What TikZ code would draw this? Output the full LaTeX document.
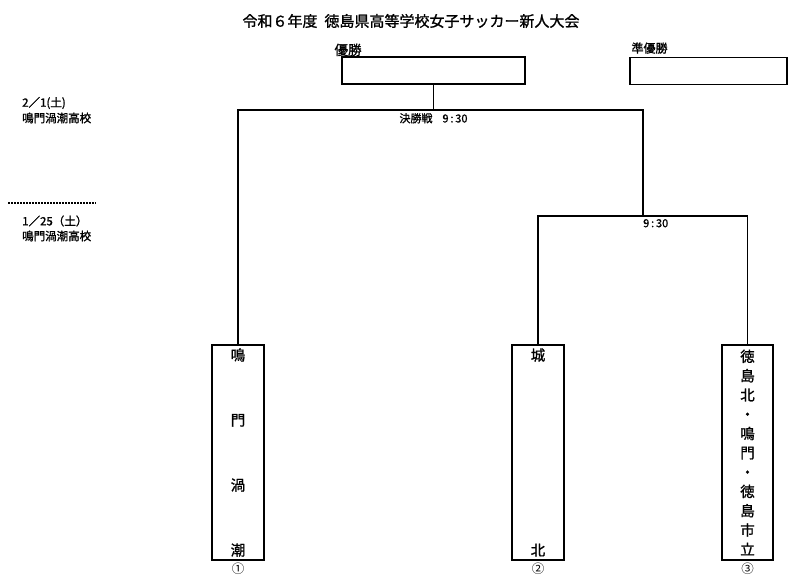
\documentclass[tikz,border=0pt]{standalone}
\usepackage{fontspec}
\setmainfont{Noto Sans CJK JP}[AutoFakeBold=1.2]
\usetikzlibrary{positioning}

\begin{document}
\begin{tikzpicture}[x=1pt,y=-1pt,
  every node/.style={font=\bfseries},
  resultbox/.style={draw,line width=1.3pt,minimum height=27pt,inner sep=0pt},
  teambox/.style={draw,line width=1.3pt,minimum width=52pt,minimum height=215pt,inner sep=0pt,align=center},
  smalllbl/.style={font=\fontsize{11}{13}\selectfont\bfseries,inner sep=0pt},
  sidelbl/.style={font=\fontsize{11.5}{13}\selectfont\bfseries,inner sep=0pt,anchor=west},
  wire/.style={line width=1.3pt}]

\useasboundingbox (0,0) rectangle (800,585);

% title
\node [font=\fontsize{15}{17}\selectfont\bfseries] (title) at (411,21) {令和６年度\hspace{7pt}徳島県高等学校女子サッカー新人大会};

% winner and runner-up
\node [resultbox,minimum width=183pt] (win) at (433.5,70.5) {};
\node [font=\fontsize{13.5}{15}\selectfont\bfseries,inner sep=0pt,anchor=south west] (winlbl) at ([xshift=-7pt,yshift=0pt]win.north west) {優勝};
\node [resultbox,minimum width=157pt] (runup) at (708.5,71) {};
\node [font=\fontsize{12}{13}\selectfont\bfseries,inner sep=0pt,anchor=south west] (runuplbl) at ([xshift=2pt,yshift=3pt]runup.north west) {準優勝};

% dates and venues
\node [sidelbl] (date1) at (22,103) {2／1(土)};
\node [sidelbl] (venue1) at (22,118) {鳴門渦潮高校};
\draw [dash pattern=on 2pt off 1pt,line width=1.2pt] (8,203) -- (96,203);
\node [sidelbl] (date2) at (22,221) {1／25（土）};
\node [sidelbl] (venue2) at (22,236) {鳴門渦潮高校};

% teams
\node [teambox,font=\fontsize{14.5}{65}\selectfont\bfseries] (t1) at (238,452.5) {鳴\\門\\渦\\潮};
\node [teambox,font=\fontsize{14.5}{195}\selectfont\bfseries] (t2) at (538,452.5) {城\\北};
\node [teambox,minimum width=51pt,font=\fontsize{14.5}{19.3}\selectfont\bfseries] (t3) at (747.5,452.5) {徳\\島\\北\\・\\鳴\\門\\・\\徳\\島\\市\\立};
\node [font=\fontsize{12.5}{14}\selectfont,inner sep=0pt,below=2pt of t1] (n1) {①};
\node [font=\fontsize{12.5}{14}\selectfont,inner sep=0pt,below=2pt of t2] (n2) {②};
\node [font=\fontsize{12.5}{14}\selectfont,inner sep=0pt,below=2pt of t3] (n3) {③};

% bracket
\coordinate (fin) at (433.5,110);
\coordinate (semi) at (643,216);
\draw [wire] (win.south) -- (fin);
\draw [wire] (t1.north) |- (fin) -| (semi);
\draw [wire] (t2.north) |- (semi) -| (t3.north);
\node [smalllbl,below=3pt of fin] (finlbl) {決勝戦\hspace{10pt}9\,:\,30};
\node [smalllbl,below right=3pt and 0pt of semi] (semilbl) {9\,:\,30};

\end{tikzpicture}
\end{document}
